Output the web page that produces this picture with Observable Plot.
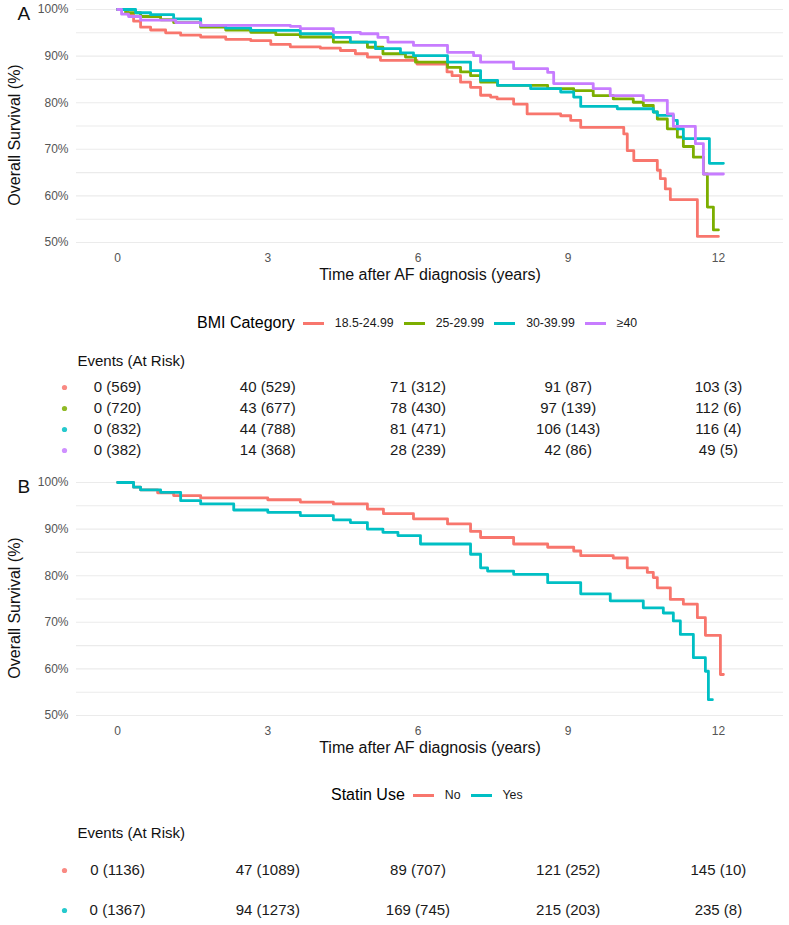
<!DOCTYPE html>
<html><head><meta charset="utf-8">
<script src="https://cdn.jsdelivr.net/npm/d3@7"></script>
<script src="https://cdn.jsdelivr.net/npm/@observablehq/plot@0.6"></script>
<style>
body{margin:0;background:#fff;font-family:"Liberation Sans",Arial,sans-serif;}
#root{position:relative;width:789px;height:925px;overflow:hidden;background:#fff;}
.abs{position:absolute;}
.legend{display:flex;align-items:center;white-space:nowrap;height:20px;}
.legend .title{font-size:16px;color:#000;margin-right:8px;}
.legend .sw{width:21px;height:3px;margin-right:11px;}
.legend .lab{font-size:12.3px;color:#1a1a1a;margin-right:10px;}
</style></head><body><div id="root"></div>
<script>
// ---------- data ----------
const bmiGroups = ["18.5-24.99", "25-29.99", "30-39.99", "≥40"];
const bmiColors = ["#F8766D", "#7CAE00", "#00BFC4", "#C77CFF"];
const statinGroups = ["No", "Yes"];
const statinColors = ["#F8766D", "#00BFC4"];
const xTicks = [0, 3, 6, 9, 12];
const yTicks = [0.5, 0.6, 0.7, 0.8, 0.9, 1.0];
const yGrid = [0.5, 0.55, 0.6, 0.65, 0.7, 0.75, 0.8, 0.85, 0.9, 0.95, 1.0];
const riskTimes = [0, 3, 6, 9, 12];

// KM curves, [years, survival]
const kmBmi1 = [[0,1],[0.2,0.99],[0.32,0.975],[0.46,0.962],[0.66,0.956],[0.96,0.95],[1.26,0.945],[1.66,0.941],[2.16,0.936],[2.66,0.933],[3.06,0.925],[3.45,0.92],[4.05,0.917],[4.45,0.912],[4.75,0.905],[4.99,0.898],[5.25,0.891],[5.98,0.883],[6.58,0.866],[6.68,0.858],[6.85,0.844],[7.05,0.833],[7.25,0.816],[7.45,0.812],[7.58,0.808],[7.91,0.797],[8.18,0.776],[8.85,0.772],[9.05,0.762],[9.25,0.747],[10.11,0.733],[10.18,0.697],[10.31,0.676],[10.78,0.655],[10.84,0.637],[10.94,0.615],[11.04,0.592],[11.58,0.513],[12.0,0.513]];
const kmBmi2 = [[0,1],[0.16,0.993],[0.46,0.985],[0.86,0.978],[1.12,0.972],[1.66,0.962],[2.16,0.956],[2.66,0.951],[3.16,0.946],[3.65,0.941],[4.31,0.93],[4.99,0.919],[5.3,0.905],[5.75,0.898],[5.95,0.887],[6.59,0.876],[6.85,0.866],[7.05,0.858],[7.25,0.844],[7.59,0.837],[8.59,0.83],[9.11,0.826],[9.5,0.815],[9.9,0.808],[10.3,0.801],[10.5,0.794],[10.7,0.78],[10.78,0.765],[10.98,0.744],[11.18,0.726],[11.3,0.706],[11.5,0.683],[11.7,0.647],[11.78,0.576],[11.9,0.527],[12.0,0.527]];
const kmBmi3 = [[0,1],[0.36,0.993],[0.66,0.989],[1.12,0.98],[1.66,0.966],[2.16,0.96],[2.66,0.955],[3.65,0.948],[4.31,0.94],[4.65,0.93],[5.15,0.916],[5.65,0.907],[5.91,0.901],[6.59,0.887],[7.05,0.869],[7.25,0.848],[7.59,0.837],[8.25,0.83],[8.85,0.823],[9.11,0.812],[9.25,0.792],[9.98,0.787],[10.7,0.78],[10.78,0.773],[11.1,0.762],[11.18,0.744],[11.3,0.723],[11.82,0.67],[12.1,0.67]];
const kmBmi4 = [[0,1],[0.08,0.99],[0.22,0.985],[0.46,0.977],[1.16,0.972],[1.66,0.966],[3.45,0.964],[3.65,0.959],[4.31,0.951],[4.85,0.948],[5.2,0.94],[5.4,0.93],[5.91,0.923],[6.59,0.908],[7.11,0.901],[7.25,0.887],[7.91,0.873],[8.59,0.865],[8.71,0.841],[9.5,0.83],[9.84,0.815],[10.5,0.805],[10.98,0.776],[11.1,0.749],[11.54,0.712],[11.7,0.647],[12.1,0.647]];
const kmStatinNo = [[0,1],[0.32,0.99],[0.46,0.984],[0.8,0.978],[1.12,0.972],[1.66,0.967],[3.0,0.963],[3.65,0.958],[4.31,0.954],[4.99,0.943],[5.31,0.933],[5.91,0.922],[6.59,0.911],[7.05,0.895],[7.25,0.882],[7.91,0.868],[8.59,0.861],[9.11,0.853],[9.25,0.843],[9.9,0.838],[10.18,0.817],[10.58,0.807],[10.7,0.796],[10.78,0.774],[11.04,0.749],[11.3,0.739],[11.58,0.71],[11.74,0.672],[12.04,0.588],[12.1,0.588]];
const kmStatinYes = [[0,1],[0.32,0.99],[0.46,0.984],[0.86,0.979],[1.26,0.961],[1.66,0.954],[2.32,0.941],[3.0,0.936],[3.65,0.929],[4.31,0.92],[4.65,0.914],[4.99,0.9],[5.3,0.893],[5.6,0.886],[6.05,0.868],[7.05,0.846],[7.25,0.817],[7.39,0.81],[7.91,0.803],[8.59,0.785],[9.25,0.761],[9.84,0.746],[10.5,0.731],[10.9,0.72],[11.1,0.703],[11.24,0.674],[11.5,0.624],[11.74,0.595],[11.8,0.534],[11.88,0.534]];

// risk tables: events and number at risk at 0,3,6,9,12 years
const eventsBmi1 = [0, 40, 71, 91, 103],  atRiskBmi1 = [569, 529, 312, 87, 3];
const eventsBmi2 = [0, 43, 78, 97, 112],  atRiskBmi2 = [720, 677, 430, 139, 6];
const eventsBmi3 = [0, 44, 81, 106, 116], atRiskBmi3 = [832, 788, 471, 143, 4];
const eventsBmi4 = [0, 14, 28, 42, 49],   atRiskBmi4 = [382, 368, 239, 86, 5];
const eventsNo  = [0, 47, 89, 121, 145],  atRiskNo  = [1136, 1089, 707, 252, 10];
const eventsYes = [0, 94, 169, 215, 235], atRiskYes = [1367, 1273, 745, 203, 8];

// ---------- drawing ----------
const FONT = '"Liberation Sans", Arial, sans-serif';
const xDomain = [-0.82, 13.3];
const root = document.getElementById("root");

function place(el, top, left) {
  const wrap = document.createElement("div");
  wrap.className = "abs";
  wrap.style.top = top + "px";
  wrap.style.left = (left || 0) + "px";
  wrap.appendChild(el);
  root.appendChild(wrap);
}

function survivalPlot(curves, groups, colors, panel) {
  const rows = curves.flatMap((c, i) => c.map(([t, s]) => ({group: groups[i], t, s})));
  return Plot.plot({
    width: 789, height: 285,
    marginLeft: 76, marginRight: 6, marginTop: 9, marginBottom: 43,
    style: {fontFamily: FONT, background: "transparent", overflow: "visible"},
    x: {domain: xDomain},
    y: {domain: [0.5, 1]},
    color: {domain: groups, range: colors},
    marks: [
      Plot.gridY(yGrid, {stroke: "#ebebeb", strokeOpacity: 1, strokeWidth: 1.1}),
      Plot.axisY(yTicks, {tickSize: 0, tickPadding: 8, tickFormat: d3.format(".0%"), fontSize: 12, fill: "#555", label: null}),
      Plot.axisX(xTicks, {tickSize: 0, tickPadding: 11, fontSize: 12, fill: "#555", label: null}),
      Plot.text(["Time after AF diagnosis (years)"], {frameAnchor: "bottom", lineAnchor: "middle", textAnchor: "middle", dy: 32, fontSize: 16, fill: "#111"}),
      Plot.text(["Overall Survival (%)"], {frameAnchor: "left", textAnchor: "middle", lineAnchor: "middle", rotate: -90, dx: -62, dy: 9, fontSize: 16, fill: "#111"}),
      Plot.text([panel], {frameAnchor: "top-left", textAnchor: "start", lineAnchor: "middle", dx: -59, dy: 4, fontSize: 19, fill: "#111"}),
      Plot.line(rows, {x: "t", y: "s", z: "group", stroke: "group", curve: "step-after", strokeWidth: 2.8})
    ]
  });
}

function riskPlot(groups, colors, events, atRisk, o) {
  const rows = groups.flatMap((g, i) => riskTimes.map((t, j) => ({group: g, t, label: `${events[i][j]} (${atRisk[i][j]})`})));
  return Plot.plot({
    width: 789, height: o.height,
    marginLeft: 76, marginRight: 6, marginTop: o.mt, marginBottom: o.mb,
    style: {fontFamily: FONT, background: "transparent", overflow: "visible"},
    x: {domain: xDomain, axis: null},
    y: {type: "point", domain: groups, axis: null, padding: 0},
    color: {domain: groups, range: colors},
    marks: [
      Plot.text(rows, {x: "t", y: "group", text: "label", fontSize: 15, fill: "#1a1a1a"}),
      Plot.dot(groups, {y: d => d, fill: d => d, r: 2.6, frameAnchor: "left", dx: -12, fillOpacity: 0.85}),
      Plot.text(["Events (At Risk)"], {frameAnchor: "top-left", textAnchor: "start", lineAnchor: "middle", dx: 1, dy: o.titleDy, fontSize: 15, fill: "#111"})
    ]
  });
}

function legend(title, groups, colors) {
  const div = document.createElement("div");
  div.className = "legend";
  const t = document.createElement("span");
  t.className = "title"; t.textContent = title; div.appendChild(t);
  groups.forEach((g, i) => {
    const sw = document.createElement("span");
    sw.className = "sw"; sw.style.background = colors[i]; div.appendChild(sw);
    const l = document.createElement("span");
    l.className = "lab"; l.textContent = g; div.appendChild(l);
  });
  return div;
}

place(survivalPlot([kmBmi1, kmBmi2, kmBmi3, kmBmi4], bmiGroups, bmiColors, "A"), 0);
place(legend("BMI Category", bmiGroups, bmiColors), 313, 197);
place(riskPlot(bmiGroups, bmiColors,
  [eventsBmi1, eventsBmi2, eventsBmi3, eventsBmi4],
  [atRiskBmi1, atRiskBmi2, atRiskBmi3, atRiskBmi4],
  {height: 110, mt: 41, mb: 5, titleDy: -25}), 345);
place(survivalPlot([kmStatinNo, kmStatinYes], statinGroups, statinColors, "B"), 473);
place(legend("Statin Use", statinGroups, statinColors), 785, 331);
place(riskPlot(statinGroups, statinColors, [eventsNo, eventsYes], [atRiskNo, atRiskYes],
  {height: 105, mt: 55, mb: 10, titleDy: -37}), 815);
</script></body></html>
